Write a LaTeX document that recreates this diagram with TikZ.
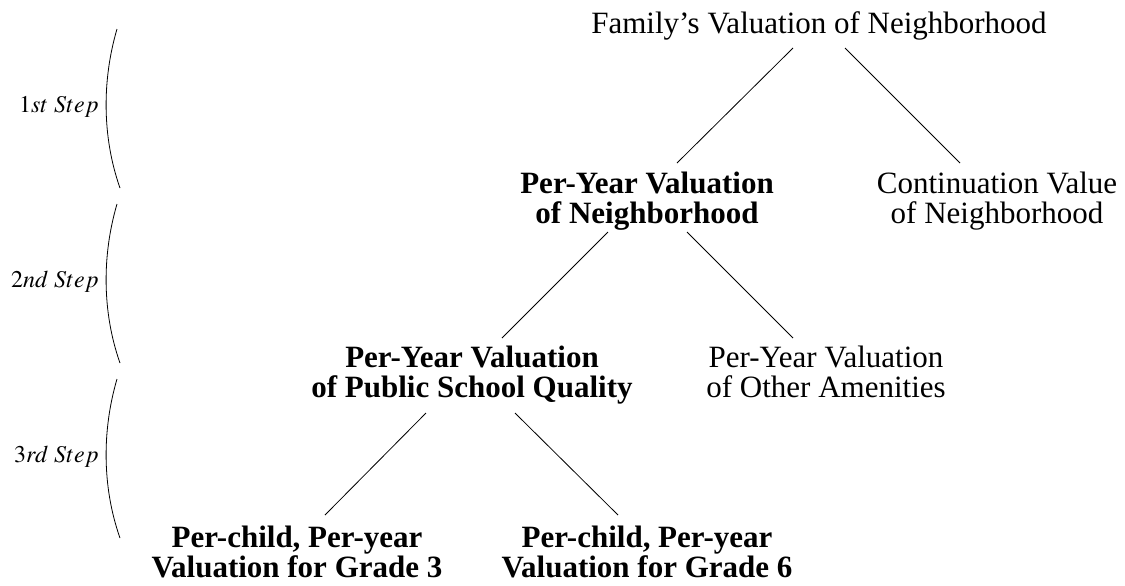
\documentclass[tikz,border=0pt]{standalone}
\usepackage{mathptmx}
\usepackage{fontspec}
\setmainfont{Liberation Serif}

\tikzset{
  rnode/.style={align=center, inner sep=0pt, anchor=base},
  bnode/.style={rnode, font=\fontsize{15.5}{15}\selectfont\bfseries},
  steplabel/.style={inner sep=0pt, anchor=base east, font=\fontsize{12}{14}\selectfont}
}

\begin{document}
\begin{tikzpicture}[x=0.5pt, y=-0.5pt, font=\fontsize{15.5}{15}\selectfont]
    \def\bow{102} % x of the control points of the brackets

    % frame of the picture
    \useasboundingbox (0,0) rectangle (1125,585);

    % the tree of valuations (base = last line)
    \node[rnode] (family) at (819,33) {Family's Valuation of Neighborhood};
    \node[bnode] (peryear) at (647,223) {Per-Year Valuation\\of Neighborhood};
    \node[rnode] (contval) at (997,223) {Continuation Value\\of Neighborhood};
    \node[bnode] (school) at (472,397) {Per-Year Valuation\\of Public School Quality};
    \node[rnode] (amenity) at (826,397) {Per-Year Valuation\\of Other Amenities};
    \node[bnode] (gradethree) at (297,577) {Per-child, Per-year\\Valuation for Grade 3};
    \node[bnode] (gradesix) at (647,577) {Per-child, Per-year\\Valuation for Grade 6};

    % edges
    \draw ([shift={(-26,15)}]family.base) -- ([shift={(30,-60)}]peryear.base);
    \draw ([shift={(26,15)}]family.base) -- ([shift={(-37,-60)}]contval.base);
    \draw ([shift={(-39,9)}]peryear.base) -- ([shift={(30,-59)}]school.base);
    \draw ([shift={(40,9)}]peryear.base) -- ([shift={(-33,-59)}]amenity.base);
    \draw ([shift={(-46,16)}]school.base) -- ([shift={(28,-62)}]gradethree.base);
    \draw ([shift={(43,16)}]school.base) -- ([shift={(-29,-62)}]gradesix.base);

    % steps on the left
    \foreach \n/\lab/\ya in {1/1st/29, 2/2nd/204, 3/3rd/379} {
      \node[steplabel] (step\n) at (99,\ya+83) {$\lab\ Step$};
      \draw (117,\ya) .. controls (\bow,\ya+51) and (\bow,\ya+108) .. (120,\ya+159);
    }
\end{tikzpicture}
\end{document}
